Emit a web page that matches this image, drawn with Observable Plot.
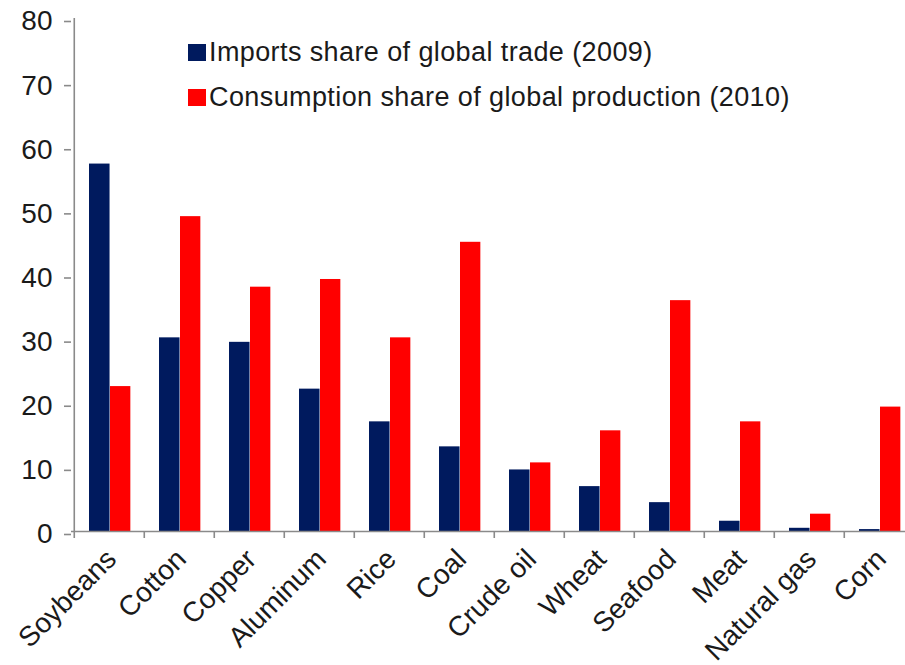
<!DOCTYPE html>
<html>
<head>
<meta charset="utf-8">
<script src="https://cdn.jsdelivr.net/npm/d3@7"></script>
<script src="https://cdn.jsdelivr.net/npm/@observablehq/plot@0.6"></script>
<style>
  html, body { margin: 0; padding: 0; background: #fff; }
  #wrap { position: relative; width: 905px; height: 665px; overflow: hidden; }
  #legend { position: absolute; left: 188px; top: 37px; font-family: "Liberation Sans", Arial, sans-serif; font-size: 27px; color: #1a1a1a; letter-spacing: 0.4px; }
  .row { display: flex; align-items: center; height: 30px; margin-bottom: 15px; white-space: nowrap; }
  .sw { width: 18px; height: 17px; margin-right: 3px; flex: none; }
</style>
</head>
<body>
<div id="wrap"><div id="legend"></div></div>
<script>
const categories = ["Soybeans", "Cotton", "Copper", "Aluminum", "Rice", "Coal", "Crude oil", "Wheat", "Seafood", "Meat", "Natural gas", "Corn"];
const imports = [57.3, 30.2, 29.5, 22.2, 17.1, 13.2, 9.6, 7.0, 4.5, 1.6, 0.5, 0.3];
const consumption = [22.6, 49.1, 38.1, 39.3, 30.2, 45.1, 10.7, 15.7, 36.0, 17.1, 2.7, 19.4];
const yTicks = [0, 10, 20, 30, 40, 50, 60, 70, 80];
const seriesNames = ["Imports share of global trade (2009)", "Consumption share of global production (2010)"];
const seriesColors = ["#001a5e", "#ff0000"];

const importsData = categories.map((c, i) => ({category: c, value: imports[i]}));
const consumptionData = categories.map((c, i) => ({category: c, value: consumption[i]}));

const bw = (917 - 71.5) / categories.length;
const tickLen = 7 / 6.4;

const chart = Plot.plot({
  width: 905,
  height: 665,
  marginLeft: 71,
  marginRight: 0,
  marginTop: 18,
  marginBottom: 134,
  style: {fontFamily: "'Liberation Sans', Arial, sans-serif", background: "transparent", overflow: "visible"},
  x: {domain: categories, range: [71.5, 917], padding: 0, label: null},
  y: {domain: [0, 80], label: null},
  marks: [
    Plot.barY(importsData, {x: "category", y: "value", fill: seriesColors[0], insetLeft: 15, insetRight: bw - 36}),
    Plot.barY(consumptionData, {x: "category", y: "value", fill: seriesColors[1], insetLeft: 36, insetRight: bw - 56.8}),
    Plot.ruleY([0], {stroke: "#8a8a8a", strokeWidth: 1.6}),
    Plot.ruleX([categories[0]], {dx: -bw / 2, y1: 0, y2: 80, stroke: "#8a8a8a", strokeWidth: 1.6}),
    Plot.ruleX(categories, {x: d => d, dx: -bw / 2, y1: 0, y2: -tickLen, stroke: "#8a8a8a", strokeWidth: 1.6}),
    Plot.axisY({ticks: yTicks, tickSize: 7, tickPadding: 12, fontSize: 28, stroke: "#8a8a8a", strokeWidth: 1.6, fill: "#1a1a1a", dy: 3}),
    Plot.axisX({tickSize: 0, tickRotate: -45, tickPadding: 23, fontSize: 28, fill: "#1a1a1a", dx: 2})
  ]
});
document.getElementById("wrap").prepend(chart);

const legend = document.getElementById("legend");
seriesNames.forEach((name, i) => {
  const row = document.createElement("div");
  row.className = "row";
  const sw = document.createElement("span");
  sw.className = "sw";
  sw.style.background = seriesColors[i];
  const label = document.createElement("span");
  label.textContent = name;
  row.append(sw, label);
  legend.append(row);
});
</script>
</body>
</html>
